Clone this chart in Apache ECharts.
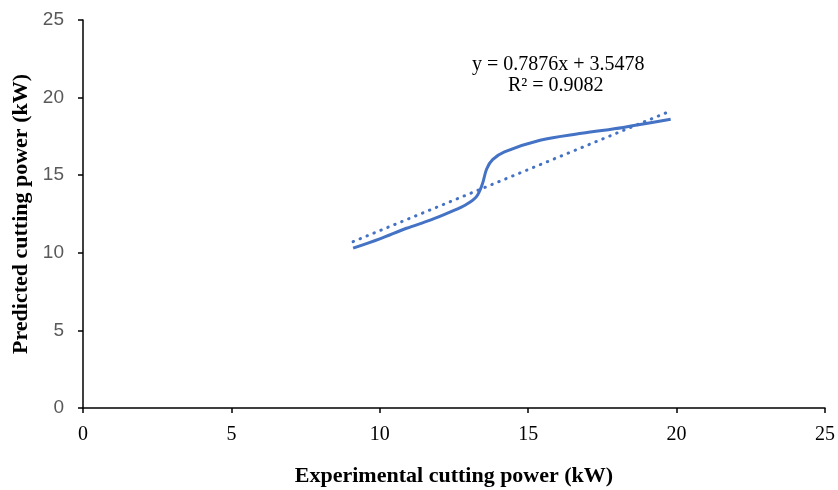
<!DOCTYPE html>
<html>
<head>
<meta charset="utf-8">
<script src="https://cdn.jsdelivr.net/npm/echarts@6/dist/echarts.min.js"></script>
<style>
  html, body { margin: 0; padding: 0; background: #fff; }
  #chart { width: 838px; height: 490px; }
</style>
</head>
<body>
<div id="chart"></div>
<script>
// experimental vs predicted power
var expPower = [9.1, 10.0, 10.9, 11.7, 12.4, 12.9, 13.25, 13.45, 13.6, 13.8, 14.2, 15.4, 16.8, 18.2, 19.8]
var predPower = [10.3, 10.9, 11.58, 12.1, 12.65, 13.1, 13.6, 14.4, 15.4, 16.0, 16.5, 17.25, 17.7, 18.08, 18.6]
// linear trend end points
var trendX = [9.1, 19.8]
var trendY = [10.72, 19.14]
var axisTicks = [0, 5, 10, 15, 20, 25]

var curve = expPower.map(function (x, i) { return [x, predPower[i]] })
var trend = trendX.map(function (x, i) { return [x, trendY[i]] })

var myChart = echarts.init(document.getElementById('chart'))
var option = {
  animation: false,
  grid: { left: 83, right: 13, top: 20, bottom: 82, containLabel: false, outerBoundsMode: 'none' },
  xAxis: {
    type: 'value',
    min: axisTicks[0],
    max: axisTicks[axisTicks.length - 1],
    interval: 5,
    name: 'Experimental cutting power (kW)',
    nameLocation: 'middle',
    nameGap: 57,
    nameTextStyle: { fontFamily: 'Liberation Serif', fontWeight: 'bold', fontSize: 22, color: '#000' },
    axisLine: { lineStyle: { color: '#000', width: 1.5 } },
    axisTick: { show: true, length: 5, lineStyle: { color: '#000', width: 1.5 } },
    axisLabel: { fontFamily: 'Liberation Serif', fontSize: 20, color: '#000', margin: 17 },
    splitLine: { show: false }
  },
  yAxis: {
    type: 'value',
    min: axisTicks[0],
    max: axisTicks[axisTicks.length - 1],
    interval: 5,
    name: 'Predicted cutting power (kW)',
    nameLocation: 'middle',
    nameGap: 42,
    nameTextStyle: { fontFamily: 'Liberation Serif', fontWeight: 'bold', fontSize: 22, color: '#000' },
    axisLine: { show: true, lineStyle: { color: '#000', width: 1.5 } },
    axisTick: { show: true, length: 5, lineStyle: { color: '#000', width: 1.5 } },
    axisLabel: { fontFamily: 'Liberation Sans', fontSize: 19, color: '#595959', margin: 19 },
    splitLine: { show: false }
  },
  series: [
    {
      type: 'line',
      data: curve,
      smooth: 0.35,
      showSymbol: false,
      lineStyle: { color: '#4472C4', width: 3 }
    },
    {
      type: 'line',
      data: trend,
      showSymbol: false,
      lineStyle: { color: '#4472C4', width: 3, type: [0.5, 7], cap: 'round' }
    }
  ],
  graphic: [
    {
      type: 'text', left: 472, top: 55,
      style: { text: 'y = 0.7876x + 3.5478', fontFamily: 'Liberation Serif', fontSize: 20, fill: '#000' }
    },
    {
      type: 'text', left: 508, top: 76,
      style: { text: 'R² = 0.9082', fontFamily: 'Liberation Serif', fontSize: 20, fill: '#000' }
    }
  ]
}
myChart.setOption(option)
</script>
</body>
</html>
